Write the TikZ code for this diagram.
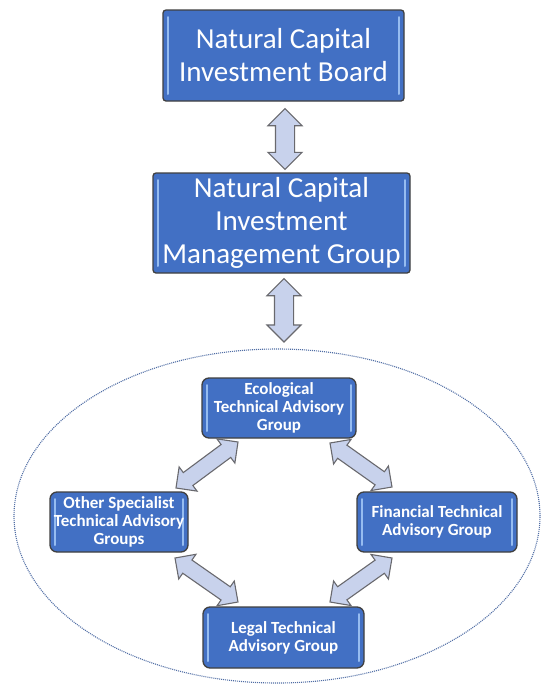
\documentclass[tikz,border=0pt]{standalone}
\usepackage{fontspec}
\setmainfont{Carlito}
\usetikzlibrary{shapes.geometric,shapes.arrows,calc}
\definecolor{boxblue}{RGB}{66,112,196}
\definecolor{boxedge}{RGB}{64,64,64}
\definecolor{innerline}{RGB}{150,188,240}
\definecolor{arrfill}{RGB}{200,210,236}
\definecolor{arredge}{RGB}{105,105,110}
\definecolor{ringcol}{RGB}{80,110,165}
\tikzset{
  orgbox/.style={draw=boxedge, line width=1.3pt, fill=boxblue, text=white,
    align=center, inner sep=0pt, rounded corners=#1,
    path picture={
      \draw[innerline, line width=2pt, line cap=round]
        ([xshift=5pt,yshift=-7pt]path picture bounding box.north west) --
        ([xshift=5pt,yshift=7pt]path picture bounding box.south west);
      \draw[innerline, line width=2pt, line cap=round]
        ([xshift=-5pt,yshift=-7pt]path picture bounding box.north east) --
        ([xshift=-5pt,yshift=7pt]path picture bounding box.south east);
    }},
  bigbox/.style={orgbox=3pt, font=\fontsize{29}{33}\selectfont},
  smallbox/.style={orgbox=7pt, font=\fontsize{17}{18}\selectfont\bfseries},
  blkarrow/.style 2 args={double arrow, draw=arredge, fill=arrfill, line width=1.1pt,
    inner xsep=0pt, inner ysep=#1, minimum width=0pt, double arrow head extend=#2,
    double arrow tip angle=90},
}
\newcommand\blockarr[4]{%
  \path let \p1=(#3), \p2=(#4),
    \n1={atan2(\y2-\y1,\x2-\x1)}, \n2={veclen(\x2-\x1,\y2-\y1)} in
    node[blkarrow={#1}{#2}, minimum height=\n2, rotate=\n1] at ($(#3)!0.5!(#4)$) {};}
\begin{document}
\begin{tikzpicture}[x=1pt,y=-1pt]
\useasboundingbox[fill=white] (0,0) rectangle (546,689);

\node (grp) [ellipse, draw=ringcol, line width=1.1pt, dash pattern=on 1pt off 1pt,
  minimum width=526pt, minimum height=334pt, inner sep=0pt] at (277,516) {};

\node (board) [bigbox, minimum width=241pt, minimum height=91pt] at (283.5,55.5)
  {Natural Capital\\Investment Board};
\node (mgmt) [bigbox, minimum width=257pt, minimum height=100pt] at (281.5,223)
  {Natural Capital\\Investment\\Management Group};

\node (eco) [smallbox, minimum width=154pt, minimum height=60pt] at (279,408)
  {Ecological\\Technical Advisory\\Group};
\node (other) [smallbox, minimum width=138pt, minimum height=60pt] at (119,522)
  {Other Specialist\\Technical Advisory\\Groups};
\node (fin) [smallbox, minimum width=160pt, minimum height=60pt] at (437,522)
  {Financial Technical\\Advisory Group};
\node (legal) [smallbox, minimum width=161pt, minimum height=61pt] at (283.5,637.5)
  {Legal Technical\\Advisory Group};

% arrow end points
\coordinate (a1s) at ($(board.south)+(1.5,7)$);
\coordinate (a1e) at ($(mgmt.north)+(3.5,-3)$);
\coordinate (a2s) at ($(mgmt.south)+(2.5,5)$);
\coordinate (a2e) at (284,342);
\coordinate (d1s) at (238,442);
\coordinate (d1e) at (176,488);
\coordinate (d2s) at (330,443);
\coordinate (d2e) at (392,487);
\coordinate (d3s) at (175,558);
\coordinate (d3e) at (238,602);
\coordinate (d4s) at (392,558);
\coordinate (d4e) at (330,602);

\blockarr{9pt}{7.5pt}{a1s}{a1e}
\blockarr{9pt}{7.5pt}{a2s}{a2e}
\blockarr{7.5pt}{7pt}{d1s}{d1e}
\blockarr{7.5pt}{7pt}{d2s}{d2e}
\blockarr{7.5pt}{7pt}{d3s}{d3e}
\blockarr{7.5pt}{7pt}{d4s}{d4e}
\end{tikzpicture}
\end{document}
